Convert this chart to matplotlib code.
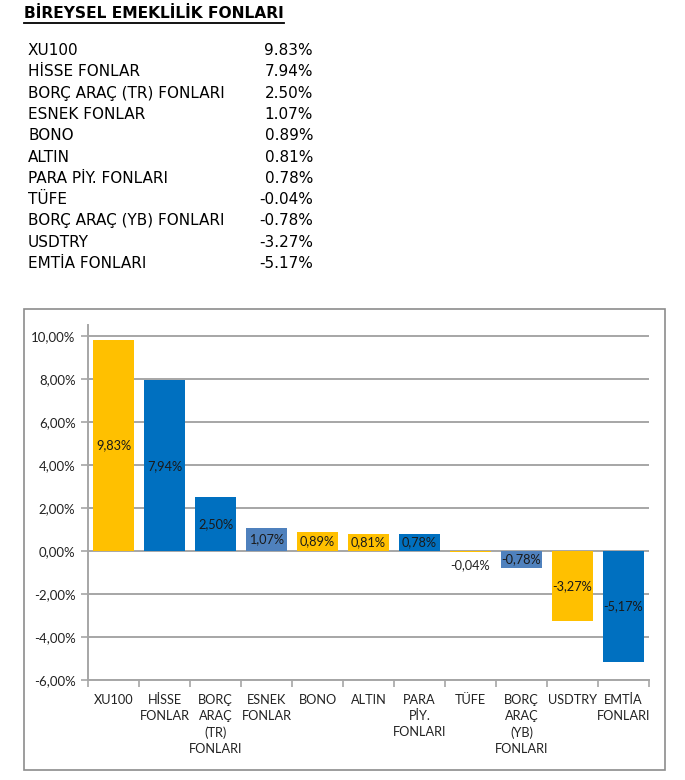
import matplotlib
matplotlib.use("Agg")
import matplotlib.pyplot as plt
from matplotlib.patches import Rectangle
from matplotlib.lines import Line2D
from matplotlib.ticker import FixedLocator, FuncFormatter

title = "BİREYSEL EMEKLİLİK FONLARI"
table_names = ["XU100", "HİSSE FONLAR", "BORÇ ARAÇ (TR) FONLARI", "ESNEK FONLAR", "BONO",
               "ALTIN", "PARA PİY. FONLARI", "TÜFE", "BORÇ ARAÇ (YB) FONLARI", "USDTRY", "EMTİA FONLARI"]
values = [9.83, 7.94, 2.50, 1.07, 0.89, 0.81, 0.78, -0.04, -0.78, -3.27, -5.17]
chart_labels = ["XU100", "HİSSE\nFONLAR", "BORÇ\nARAÇ\n(TR)\nFONLARI", "ESNEK\nFONLAR", "BONO",
                "ALTIN", "PARA\nPİY.\nFONLARI", "TÜFE", "BORÇ\nARAÇ\n(YB)\nFONLARI", "USDTRY", "EMTİA\nFONLARI"]
y_ticks = [-6, -4, -2, 0, 2, 4, 6, 8, 10]

YEL, BLU, SBL = "#FFC000", "#0070C0", "#4F81BD"
bar_colors = [YEL, BLU, BLU, SBL, YEL, YEL, BLU, YEL, SBL, YEL, BLU]

W, H = 685, 780
fig = plt.figure(figsize=(W / 100, H / 100), dpi=100)

def fx(x):
    return x / W

def fy(y):
    return 1 - y / H

# Title with underline
tfont = "DejaVu Sans"
t = fig.text(fx(24), fy(14), title, fontsize=11.2, fontweight="bold", family=tfont,
             ha="left", va="center", color="#000000")
fig.canvas.draw()
bb = t.get_window_extent(renderer=fig.canvas.get_renderer())
x0, x1 = bb.x0 / W, bb.x1 / W
fig.add_artist(Line2D([x0, x1], [fy(22.5), fy(22.5)], transform=fig.transFigure, color="black", lw=1.3))

# Table
for i, (n, v) in enumerate(zip(table_names, values)):
    y = 50.5 + i * 21.3
    fig.text(fx(28), fy(y), n, fontsize=11, family=tfont, ha="left", va="center", color="#000000")
    fig.text(fx(313), fy(y), f"{v:.2f}%", fontsize=11, family=tfont, ha="right", va="center", color="#000000")

# Chart border
fig.add_artist(Rectangle((fx(24), fy(770)), fx(665) - fx(24), fy(309) - fy(770),
                         transform=fig.transFigure, fill=False, edgecolor="#8C8C8C", lw=1.2))

cfont = ["Lato", "DejaVu Sans"]
ax = fig.add_axes([fx(88), fy(680), fx(649) - fx(88), fy(325.3) - fy(680)])
x = list(range(len(values)))
ax.bar(x, values, width=0.82, color=bar_colors, zorder=3)
ax.set_xlim(-0.5, len(values) - 0.5)
ax.set_ylim(-6, 10.5)
ax.yaxis.set_major_locator(FixedLocator(y_ticks))
ax.yaxis.set_major_formatter(FuncFormatter(lambda v, p: f"{v:.2f}%".replace(".", ",")))
ax.grid(axis="y", color="#A6A6A6", lw=1.4, zorder=0)
for s in ["top", "right"]:
    ax.spines[s].set_visible(False)
for s in ["left", "bottom"]:
    ax.spines[s].set_color("#A6A6A6")
    ax.spines[s].set_linewidth(1.4)
ax.tick_params(axis="y", length=5, width=1.2, color="#A6A6A6", labelsize=9.5, pad=4)
ax.set_xticks(x)
ax.set_xticklabels(chart_labels, fontsize=9.2, family=cfont, linespacing=1.42, va="top")
ax.tick_params(axis="x", which="major", length=0, pad=10)
ax.set_xticks([i + 0.5 for i in range(-1, len(values))], minor=True)
ax.tick_params(axis="x", which="minor", length=5, width=1.2, color="#A6A6A6")
for lab in ax.get_yticklabels():
    lab.set_family(cfont)
    lab.set_color("#222222")
for lab in ax.get_xticklabels():
    lab.set_color("#222222")

for i, v in enumerate(values):
    txt = f"{v:.2f}%".replace(".", ",")
    if abs(v) < 0.3:
        ax.text(i, v - 0.6, txt, ha="center", va="center", fontsize=9.2, family=cfont, color="#222222", zorder=4)
    else:
        ax.text(i, v / 2, txt, ha="center", va="center", fontsize=9.2, family=cfont, color="#1a1a1a", zorder=4)

fig.savefig("out.png", dpi=100)
